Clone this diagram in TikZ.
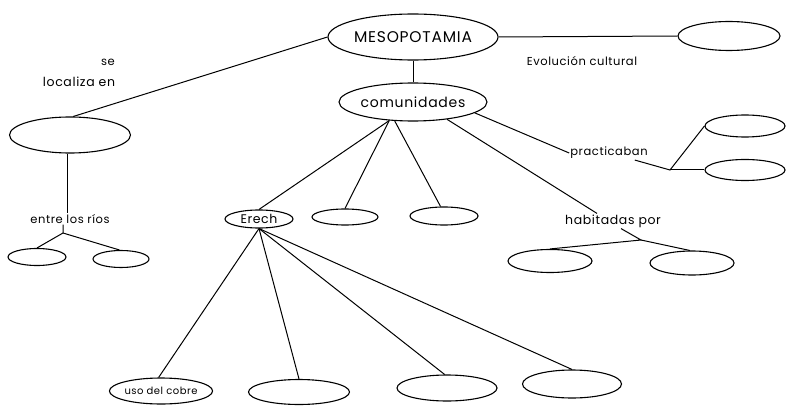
\documentclass[tikz,border=0pt]{standalone}
\usepackage{fontspec}
\setmainfont{Poppins}
\usetikzlibrary{shapes.geometric,positioning,calc}

\newcommand{\wide}[1]{\fontsize{#1}{#1}\selectfont\addfontfeatures{LetterSpace=5}}

\begin{document}
\begin{tikzpicture}[x=1pt,y=-1pt,
    oval/.style={draw,ellipse,line width=1.1pt,inner sep=0pt},
    lbl/.style={font=\wide{11.5},inner sep=1pt},
    link/.style={line width=1pt}]
  \useasboundingbox (0,0) rectangle (786,406);
  % top level
  \node[oval,minimum width=170pt,minimum height=46pt,font=\wide{15.5}] (meso) at (413,37) {MESOPOTAMIA};
  \node[oval,minimum width=102pt,minimum height=29pt] (evo) at (729,36) {};
  \node[lbl] (evotxt) at (582,61) {Evolución cultural};
  \node[oval,minimum width=147pt,minimum height=38pt,font=\wide{14}] (com) at (413,102) {comunidades};
  % left branch
  \node[lbl] (se) at (108,62) {se};
  \node[lbl,font=\wide{12.5}] (loctxt) at (79,82) {localiza en};
  \node[oval,minimum width=121pt,minimum height=36pt] (loc) at (70,135) {};
  \node[lbl] (entre) at (70,219) {entre los ríos};
  \coordinate (je) at (63,233);
  \node[oval,minimum width=58pt,minimum height=17pt] (rio1) at (37,257) {};
  \node[oval,minimum width=56pt,minimum height=17pt] (rio2) at (121,259) {};
  % middle row
  \node[oval,minimum width=68pt,minimum height=18pt,font=\wide{12.5}] (erech) at (259,219) {Erech};
  \node[oval,minimum width=66pt,minimum height=16pt] (ciu2) at (345,217) {};
  \node[oval,minimum width=68pt,minimum height=18pt] (ciu3) at (444,216) {};
  \node[lbl,font=\wide{12.5}] (hab) at (613,221) {habitadas por};
  \coordinate (jh) at (641,240);
  \node[oval,minimum width=84pt,minimum height=23pt] (hab1) at (550,261) {};
  \node[oval,minimum width=84pt,minimum height=24pt] (hab2) at (692,263) {};
  \node[lbl] (prac) at (609,153) {practicaban};
  \coordinate (jp) at (670,170);
  \node[oval,minimum width=80pt,minimum height=22pt] (prac1) at (745,126) {};
  \node[oval,minimum width=80pt,minimum height=21pt] (prac2) at (745,170) {};
  % bottom row
  \node[oval,minimum width=98pt,minimum height=26pt,font=\wide{10}] (cobre) at (161,391) {uso del cobre};
  \node[oval,minimum width=101pt,minimum height=25pt] (ere2) at (299,392) {};
  \node[oval,minimum width=100pt,minimum height=26pt] (ere3) at (447,388) {};
  \node[oval,minimum width=99pt,minimum height=28pt] (ere4) at (572,384) {};
  % connectors
  \draw[link] (meso.west) -- (loc.80);
  \draw[link] (meso.east) -- (evo.west);
  \draw[link] (meso.south) -- (com.north);
  \draw[link] (loc.262) -- (loc.262 |- entre.north);
  \draw[link] (entre.south -| je) -- (je) -- (rio1.north);
  \draw[link] (je) -- (rio2.100);
  \draw[link] (com.218) -- (erech.north);
  \draw[link] (com.218) -- (ciu2.north);
  \draw[link] (com.226) -- (ciu3.110);
  \draw[link] (com.333) -- ([xshift=-16pt]hab.north);
  \draw[link] (com.350) -- (prac.west);
  \draw[link] ([xshift=8pt]hab.south) -- (jh) -- (hab1.north);
  \draw[link] (jh) -- (hab2.100);
  \draw[link] ([xshift=-14pt]prac.south east) -- (jp) -- (prac1.west);
  \draw[link] (jp) -- (prac2.west);
  \draw[link] (erech.south) -- (cobre.100);
  \draw[link] (erech.south) -- (ere2.north);
  \draw[link] (erech.south) -- (ere3.100);
  \draw[link] (erech.south) -- (ere4.north);
\end{tikzpicture}
\end{document}
